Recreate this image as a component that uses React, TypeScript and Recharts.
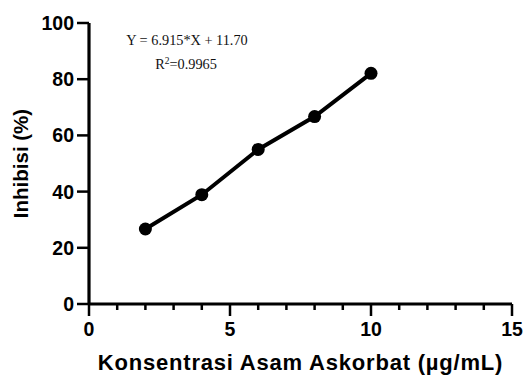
import React from "react";
import { LineChart, Line, XAxis, YAxis, Label, Customized } from "recharts";

// ascorbic acid concentration (µg/mL) and measured inhibition (%)
const konsentrasi = [2, 4, 6, 8, 10];
const inhibisi = [26.7, 38.9, 55.0, 66.7, 82.1];

const xTicks = [0, 1, 2, 3, 4, 5, 6, 7, 8, 9, 10, 11, 12, 13, 14, 15];
const yTicks = [0, 20, 40, 60, 80, 100];

const data = konsentrasi.map((x, i) => ({ x, y: inhibisi[i] }));

const INK = "#000";
const SANS = "'Liberation Sans', Arial, sans-serif";
const SERIF = "'Liberation Serif', 'Times New Roman', serif";

// bottom axis: long ticks with labels every 5, short minor ticks in between
function XTick(props: any) {
  const { x, y, payload } = props;
  const major = payload.value % 5 === 0;
  return (
    <g>
      <line x1={x} x2={x} y1={y} y2={y + (major ? 12 : 6)} stroke={INK} strokeWidth={2.5} />
      {major && (
        <text x={x} y={y + 32} textAnchor="middle" fontFamily={SANS} fontWeight="bold" fontSize={19.5} fill={INK}>
          {payload.value}
        </text>
      )}
    </g>
  );
}

function YTick(props: any) {
  const { x, y, payload } = props;
  return (
    <g>
      <line x1={x - 12} x2={x} y1={y} y2={y} stroke={INK} strokeWidth={2.5} />
      <text x={x - 15} y={y + 7} textAnchor="end" fontFamily={SANS} fontWeight="bold" fontSize={19.5} fill={INK}>
        {payload.value}
      </text>
    </g>
  );
}

function Equation() {
  return (
    <g fontFamily={SERIF} fontSize={14.3} fill="#111">
      <text x={187} y={45} textAnchor="middle">Y = 6.915*X + 11.70</text>
      <text x={186} y={69} textAnchor="middle">
        R<tspan dy={-5} fontSize={9.5}>2</tspan>
        <tspan dy={5}>=0.9965</tspan>
      </text>
    </g>
  );
}

export default function App() {
  return (
    <div style={{ position: "absolute", left: 0, top: 0, background: "#fff" }}>
      <LineChart width={523} height={377} data={data} margin={{ top: 23, right: 11, bottom: 0, left: 0 }}>
        <XAxis
          dataKey="x"
          type="number"
          domain={[0, 15]}
          ticks={xTicks}
          interval={0}
          tickSize={0}
          tickMargin={0}
          tick={<XTick />}
          height={73}
          axisLine={{ stroke: INK, strokeWidth: 3.2 }}
        >
          <Label
            value="Konsentrasi Asam Askorbat (µg/mL)"
            position="center"
            dy={22}
            style={{ fontFamily: SANS, fontWeight: "bold", fontSize: 22, letterSpacing: 0.8, fill: INK }}
          />
        </XAxis>
        <YAxis
          dataKey="y"
          type="number"
          domain={[0, 100]}
          ticks={yTicks}
          interval={0}
          tickSize={0}
          tickMargin={0}
          tick={<YTick />}
          width={89}
          axisLine={{ stroke: INK, strokeWidth: 3.2 }}
        >
          <Label
            value="Inhibisi (%)"
            position="center"
            angle={-90}
            dx={-24}
            style={{ fontFamily: SANS, fontWeight: "bold", fontSize: 20.5, fill: INK }}
          />
        </YAxis>
        <Line
          dataKey="y"
          stroke={INK}
          strokeWidth={4}
          dot={{ r: 6.5, fill: INK, stroke: INK, strokeWidth: 0 }}
          isAnimationActive={false}
        />
        <Customized component={Equation} />
      </LineChart>
    </div>
  );
}
